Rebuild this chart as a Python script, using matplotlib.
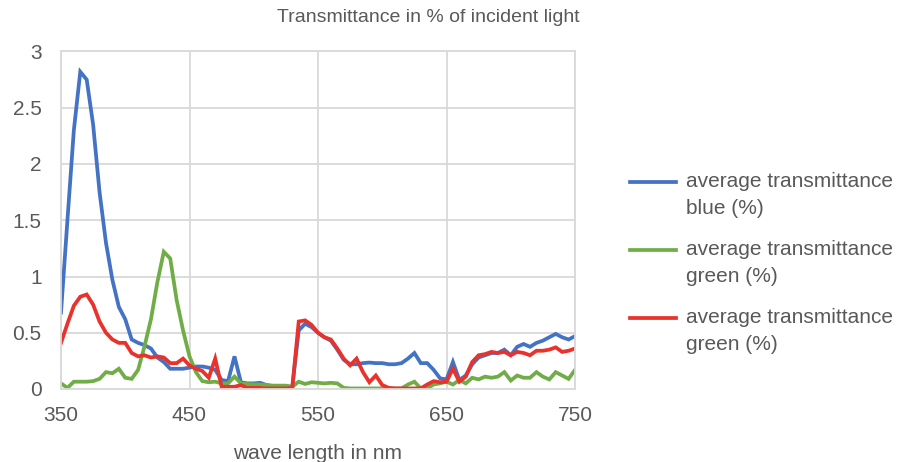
import numpy as np
import matplotlib
matplotlib.use("Agg")
import matplotlib.pyplot as plt
from matplotlib.lines import Line2D

plt.rcParams['font.family'] = ['Liberation Sans', 'DejaVu Sans']

# wavelengths in nm, 5 nm steps
wavelengths = np.arange(350, 755, 5)

blue = [
    0.68, 1.50, 2.30, 2.82, 2.75, 2.35, 1.75, 1.30, 0.97, 0.73,    # 350-395
    0.62, 0.44, 0.41, 0.39, 0.36, 0.28, 0.24, 0.18, 0.18, 0.18,    # 400-445
    0.19, 0.20, 0.20, 0.19, 0.17, 0.08, 0.07, 0.29, 0.06, 0.05,    # 450-495
    0.05, 0.055, 0.035, 0.025, 0.02, 0.02, 0.02, 0.52, 0.58, 0.55, # 500-545
    0.50, 0.46, 0.43, 0.35, 0.26, 0.22, 0.22, 0.23, 0.235, 0.23,   # 550-595
    0.23, 0.22, 0.22, 0.23, 0.27, 0.32, 0.23, 0.23, 0.17, 0.095,   # 600-645
    0.085, 0.24, 0.08, 0.12, 0.22, 0.28, 0.30, 0.32, 0.32, 0.35,   # 650-695
    0.30, 0.375, 0.40, 0.375, 0.41, 0.43, 0.46, 0.49, 0.46, 0.44,  # 700-745
    0.47,
]

green = [
    0.05, 0.01, 0.065, 0.065, 0.065, 0.07, 0.09, 0.15, 0.14, 0.18,
    0.10, 0.09, 0.17, 0.38, 0.62, 0.95, 1.22, 1.16, 0.79, 0.52,
    0.29, 0.15, 0.07, 0.06, 0.065, 0.05, 0.05, 0.11, 0.05, 0.045,
    0.04, 0.04, 0.035, 0.03, 0.03, 0.03, 0.02, 0.065, 0.045, 0.06,
    0.055, 0.05, 0.055, 0.05, 0.01, 0.005, 0.005, 0.005, 0.005, 0.005,
    0.005, 0.005, 0.005, 0.005, 0.04, 0.065, 0.005, 0.005, 0.04, 0.05,
    0.065, 0.04, 0.08, 0.05, 0.10, 0.085, 0.11, 0.10, 0.11, 0.15,
    0.075, 0.12, 0.10, 0.10, 0.15, 0.11, 0.085, 0.15, 0.12, 0.09,
    0.17,
]

red = [
    0.41, 0.58, 0.74, 0.82, 0.84, 0.75, 0.60, 0.50, 0.44, 0.41,
    0.41, 0.32, 0.29, 0.30, 0.28, 0.29, 0.28, 0.23, 0.23, 0.27,
    0.21, 0.18, 0.16, 0.10, 0.27, 0.02, 0.02, 0.02, 0.035, 0.01,
    0.01, 0.01, 0.005, 0.005, 0.005, 0.005, 0.01, 0.60, 0.61, 0.57,
    0.50, 0.46, 0.44, 0.36, 0.27, 0.21, 0.27, 0.15, 0.06, 0.12,
    0.035, 0.01, 0.005, 0.005, 0.005, 0.005, 0.005, 0.04, 0.07, 0.06,
    0.065, 0.18, 0.065, 0.11, 0.24, 0.30, 0.31, 0.33, 0.32, 0.33,
    0.30, 0.33, 0.32, 0.30, 0.34, 0.34, 0.35, 0.37, 0.33, 0.34,
    0.36,
]

labels = ["average transmittance\nblue (%)",
          "average transmittance\ngreen (%)",
          "average transmittance\ngreen (%)"]
colors = ["#4472C4", "#70AD47", "#E8322B"]
x_ticks = [350, 450, 550, 650, 750]
y_ticks = [0, 0.5, 1, 1.5, 2, 2.5, 3]
y_tick_labels = ["0", "0.5", "1", "1.5", "2", "2.5", "3"]

text_col = "#595959"
grid_col = "#D9D9D9"

W, H = 901, 462
fig = plt.figure(figsize=(W / 100, H / 100), dpi=100)
ax = fig.add_axes([61 / W, 1 - 389 / H, (575 - 61) / W, (389 - 51.5) / H])

for series, col in zip([blue, green, red], colors):
    ax.plot(wavelengths, series, color=col, lw=2.7, solid_joinstyle='miter')

ax.set_xlim(350, 750)
ax.set_ylim(0, 3)
ax.set_xticks(x_ticks)
ax.set_yticks(y_ticks)
ax.set_yticklabels(y_tick_labels)
ax.grid(True, color=grid_col, lw=1.3)
ax.set_axisbelow(True)
for s in ax.spines.values():
    s.set_color(grid_col)
    s.set_linewidth(1.3)
ax.tick_params(length=0, labelsize=15, labelcolor=text_col)
ax.tick_params(axis='y', pad=14)
ax.tick_params(axis='x', pad=12)

ax.set_xlabel("wave length in nm", fontsize=15, color=text_col, labelpad=14)
fig.text(580 / W, 1 - 18 / H, "Transmittance in % of incident light",
         fontsize=14, color=text_col, ha='right', va='center')

# legend drawn by hand so the swatch sits on the first text line
leg_y = [182, 250, 318]
for yy, lab, col in zip(leg_y, labels, colors):
    fy = 1 - yy / H
    fig.add_artist(Line2D([630 / W, 676 / W], [fy, fy], color=col, lw=2.7,
                          transform=fig.transFigure))
    fig.text(686 / W, 1 - (yy - 10) / H, lab, fontsize=15, color=text_col,
             ha='left', va='top', linespacing=1.5)

fig.savefig("out.png", dpi=100)
